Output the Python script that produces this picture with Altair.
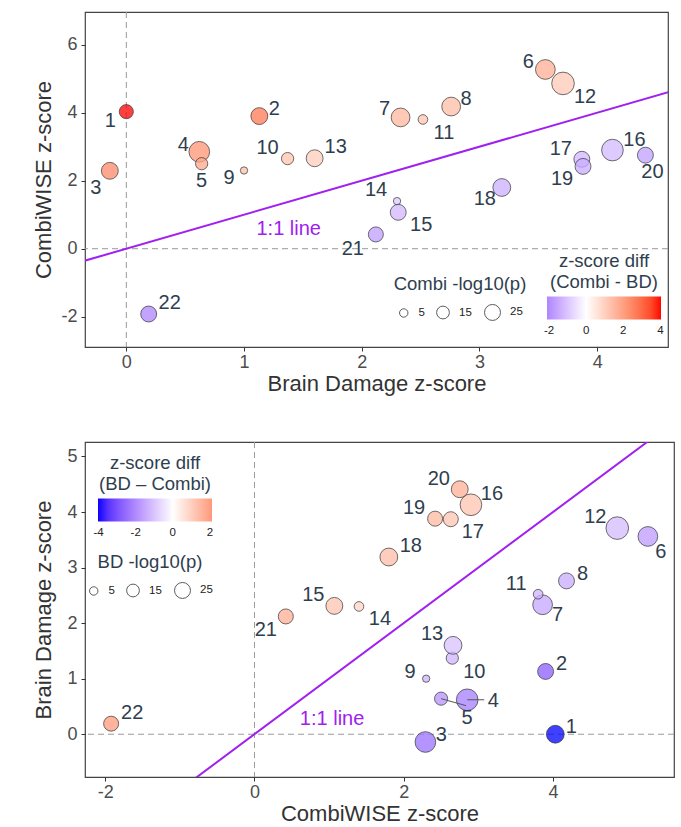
import altair as alt
import pandas as pd

# ---------------- data ----------------
ids = list(range(1, 23))
bd_z = [0.00, 1.13, -0.14, 0.62, 0.64, 3.56, 2.33, 2.76, 1.00, 1.37, 2.52,
        3.71, 1.60, 2.30, 2.31, 4.13, 3.87, 3.19, 3.88, 4.41, 2.12, 0.19]
combi_z = [4.03, 3.90, 2.29, 2.85, 2.50, 5.27, 3.86, 4.18, 2.30, 2.65, 3.80,
           4.86, 2.66, 1.40, 1.07, 2.90, 2.63, 1.80, 2.42, 2.75, 0.42, -1.92]
combi_logp = [18.9, 28.3, 28.3, 43.8, 13.6, 39.6, 35.6, 35.6, 3.1, 13.6, 7.4,
              52.8, 28.3, 3.1, 24.9, 48.2, 24.9, 31.8, 24.9, 24.9, 21.8, 24.9]
bd_logp = [31.8, 24.9, 43.8, 48.2, 16.2, 39.6, 39.6, 24.9, 3.1, 13.6, 7.4,
           52.8, 31.8, 7.4, 28.3, 48.2, 21.8, 31.8, 21.8, 28.3, 21.8, 21.8]

# label nudges (pixels, like ggrepel placements): top panel, bottom panel
top_dx = [-16, 15, -14, -16, 0, -17, -16, 15, -15, -20, 21, 22, 21, -21, 23, 22, -21, -17, -21, 7, -23, 21]
top_dy = [9, -7, 17, -7, 17, -7, -8, -8, 8, -11, 14, 14, -11, -11, 13, -10, -10, 12, 13, 17, 15, -11]
bot_dx = [16, 16, 16, 26, 26, 13, 15, 16, -16, 22, -22, -22, -21, 21, -21, 21, 22, 22, -21, -21, -20, 21]
bot_dy = [-7, -7, -7, 1, 19, 16, 10, -7, -7, 14, -10, -11, -11, 13, -11, -11, 13, -11, -11, -10, 14, -11]
seg_ids = [4, 5]
seg_dx = [17, 25]
seg_dy = [0, 7]

FONT = "Liberation Sans"
LAB_COL = "#2f3e4e"
PURPLE = "#A020F0"
MINUS = "replace(datum.label, '\u2212', '-')"

base = pd.DataFrame({"id": ids, "lab": [str(i) for i in ids], "bd": bd_z,
                     "combi": combi_z, "bd_p": bd_logp, "combi_p": combi_logp})


def panel(xcol, ycol, pcol, xdom, ydom, w, h, xticks, yticks, xtitle, ytitle,
          cdom, crange, cvals, ctitle, stitle, ndx, ndy, cleg, sleg, linelab,
          ytitle_pad, segs=None):
    d = base.copy()
    d["x"] = d[xcol]
    d["y"] = d[ycol]
    d["p"] = d[pcol]
    d["diff"] = d["y"] - d["x"]
    kx = (xdom[1] - xdom[0]) / w
    ky = (ydom[1] - ydom[0]) / h
    d["lx"] = d["x"] + pd.Series(ndx) * kx
    d["ly"] = d["y"] - pd.Series(ndy) * ky

    xs = alt.Scale(domain=xdom, nice=False, zero=False)
    ys = alt.Scale(domain=ydom, nice=False, zero=False)
    axis_common = dict(grid=False, domain=False, tickColor="#333333", tickSize=4,
                       tickWidth=1, labelFontSize=18, labelColor="#4d4d4d",
                       labelFont=FONT, titleFont=FONT, titleFontSize=22,
                       titleColor="#333333", titleFontWeight="normal",
                       labelExpr=MINUS)
    xa = alt.Axis(values=xticks, title=xtitle, labelPadding=2, titlePadding=2, **axis_common)
    ya = alt.Axis(values=yticks, title=ytitle, labelPadding=4, titlePadding=ytitle_pad,
                  **axis_common)

    def X(f):
        return alt.X(f, scale=xs, axis=xa)

    def Y(f):
        return alt.Y(f, scale=ys, axis=ya)

    vline = alt.Chart(pd.DataFrame({"v": [0]})).mark_rule(
        color="#9a9a9a", strokeDash=[6, 4], strokeWidth=1).encode(x=X("v:Q"))
    hline = alt.Chart(pd.DataFrame({"v": [0]})).mark_rule(
        color="#9a9a9a", strokeDash=[6, 4], strokeWidth=1).encode(y=Y("v:Q"))
    ab = alt.Chart(pd.DataFrame({"a": [-10.0], "b": [10.0]})).mark_rule(
        color=PURPLE, strokeWidth=2, clip=True).encode(
        x=X("a:Q"), y=Y("a:Q"), x2="b:Q", y2="b:Q")
    abtxt = alt.Chart(pd.DataFrame({"x": [linelab[0]], "y": [linelab[1]],
                                    "t": ["1:1 line"]})).mark_text(
        color=PURPLE, fontSize=20, font=FONT).encode(
        x=X("x:Q"), y=Y("y:Q"), text="t:N")

    pts = alt.Chart(d).mark_circle(opacity=1, fillOpacity=0.75, stroke="#333333",
                                   strokeWidth=0.7, strokeOpacity=1).encode(
        x=X("x:Q"),
        y=Y("y:Q"),
        fill=alt.Fill("diff:Q",
                      scale=alt.Scale(domain=cdom, range=crange, interpolate="lab"),
                      legend=alt.Legend(orient="none", legendX=cleg[0], legendY=cleg[1],
                                        direction="horizontal", title=ctitle,
                                        titleAnchor="middle", titleAlign="center",
                                        titleFontSize=18.5, titleFont=FONT,
                                        titleFontWeight="normal", titleColor=LAB_COL,
                                        titleLineHeight=21, titlePadding=5,
                                        gradientLength=114, gradientThickness=23,
                                        gradientStrokeWidth=0,
                                        values=cvals, labelFontSize=11.5,
                                        labelFont=FONT, labelColor="#222222",
                                        labelOffset=5, labelExpr=MINUS)),
        size=alt.Size("p:Q",
                      scale=alt.Scale(domain=[5, 25], range=[71, 255], zero=False),
                      legend=alt.Legend(orient="none", legendX=sleg[0], legendY=sleg[1],
                                        direction="horizontal", title=stitle,
                                        titleAnchor="middle", titleAlign="center",
                                        titleFontSize=18.5, titleFont=FONT,
                                        titleFontWeight="normal", titleColor=LAB_COL,
                                        titlePadding=10, values=[5, 15, 25],
                                        symbolType="circle", symbolFillColor="white",
                                        symbolStrokeColor="#333333",
                                        symbolStrokeWidth=0.8, symbolOpacity=1,
                                        labelFontSize=11.5, labelFont=FONT,
                                        labelColor="#222222", labelOffset=9,
                                        columnPadding=10)),
    )

    layers = [vline, hline, ab, abtxt, pts]
    if segs is not None:
        sd = d[d["id"].isin(segs[0])].copy().reset_index(drop=True)
        sd["ex"] = sd["x"] + pd.Series(segs[1]) * kx
        sd["ey"] = sd["y"] - pd.Series(segs[2]) * ky
        layers.append(alt.Chart(sd).mark_rule(color="#555555", strokeWidth=1).encode(
            x=X("x:Q"), y=Y("y:Q"), x2="ex:Q", y2="ey:Q"))
    labs = alt.Chart(d).mark_text(fontSize=20, font=FONT, color=LAB_COL).encode(
        x=X("lx:Q"), y=Y("ly:Q"), text="lab:N")
    layers.append(labs)
    return alt.layer(*layers).properties(
        width=w, height=h,
        view=alt.ViewBackground(stroke="#444444", strokeWidth=1.2, fill="white"))


top = panel("bd", "combi", "combi_p", [-0.351, 4.602], [-2.89, 6.96], 583, 335,
            [0, 1, 2, 3, 4], [-2, 0, 2, 4, 6], "Brain Damage z-score", "CombiWISE z-score",
            [-2.11, 0, 4.03], ["#ae86ff", "#ffffff", "#ff0000"], [-2, 0, 2, 4],
            ["z-score diff", "(Combi - BD)"], "Combi -log10(p)",
            top_dx, top_dy, (462, 240), (309, 263), (1.38, 0.59), 5)

bottom = panel("combi", "bd", "bd_p", [-2.27, 5.62], [-0.77, 5.26], 589, 335,
               [-2, 0, 2, 4], [0, 1, 2, 3, 4, 5], "CombiWISE z-score", "Brain Damage z-score",
               [-4.03, 0, 2.11], ["#0000ff", "#ffffff", "#ff997b"], [-4, -2, 0, 2],
               ["z-score diff", "(BD \u2013 Combi)"], "BD -log10(p)",
               bot_dx, bot_dy, (13, 12), (3, 111), (1.04, 0.28), 11,
               segs=(seg_ids, seg_dx, seg_dy))

top = top.resolve_scale(fill="independent", size="independent")
bottom = bottom.resolve_scale(fill="independent", size="independent")

chart = alt.concat(top, bottom, columns=1, spacing=45).resolve_scale(
    x="independent", y="independent", fill="independent", size="independent"
).resolve_legend(fill="independent", size="independent").properties(
    padding={"left": 32, "top": 10, "right": 0, "bottom": 0}
).configure_view(stroke="#444444", strokeWidth=1.2).configure(background="white")

chart.save("out.html", embed_options={"renderer": "svg", "actions": False})
